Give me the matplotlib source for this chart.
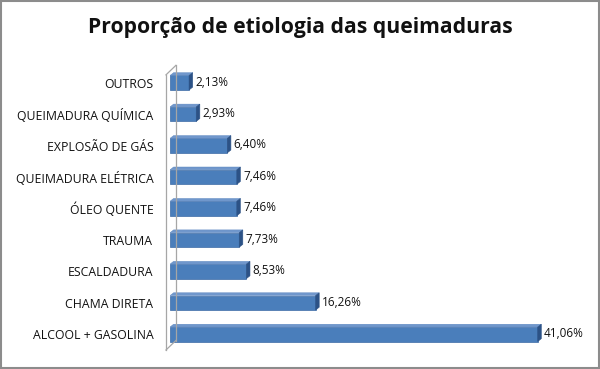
import numpy as np
import matplotlib.pyplot as plt
from matplotlib.patches import Polygon, Rectangle

# data (bottom to top)
categorias = ['ALCOOL + GASOLINA', 'CHAMA DIRETA', 'ESCALDADURA', 'TRAUMA',
              'ÓLEO QUENTE', 'QUEIMADURA ELÉTRICA', 'EXPLOSÃO DE GÁS',
              'QUEIMADURA QUÍMICA', 'OUTROS']
valores = [41.06, 16.26, 8.53, 7.73, 7.46, 7.46, 6.40, 2.93, 2.13]
rotulos = ['41,06%', '16,26%', '8,53%', '7,73%', '7,46%', '7,46%',
           '6,40%', '2,93%', '2,13%']

W, H = 600, 369
fig = plt.figure(figsize=(6, 3.69), dpi=100)
fig.patches.append(Rectangle((0.002, 0.003), 0.996, 0.994, transform=fig.transFigure,
                             fill=False, edgecolor='#8c8c8c', linewidth=1.5))

x0, x1 = 170, 573
y_top, y_bot = 67, 350
ax = fig.add_axes([x0 / W, (H - y_bot) / H, (x1 - x0) / W, (y_bot - y_top) / H])
ax.set_xlim(0, 45)
ax.set_ylim(-0.5, len(categorias) - 0.5)
for s in ax.spines.values():
    s.set_visible(False)
ax.set_xticks([])

fig.text(0.5, 0.925, 'Proporção de etiologia das queimaduras', ha='center', va='center',
         fontsize=15.2, fontweight='bold', family='Open Sans', color='#111111')

# depth of the fake 3D effect
dx = 0.4
dy = 0.09
h = 0.46

# wall
wall = '#a6a6a6'
ax.plot([-0.45, -0.45], [-0.5, 8.25], color=wall, lw=0.9, clip_on=False)
ax.plot([0.65, 0.65], [-0.2, 8.55], color=wall, lw=0.9, clip_on=False)
ax.plot([-0.45, 0.65], [8.25, 8.55], color=wall, lw=0.9, clip_on=False)
ax.plot([-0.45, 0.65], [-0.5, -0.2], color=wall, lw=0.9, clip_on=False)

for i, (v, lab) in enumerate(zip(valores, rotulos)):
    yb, yt = i - h / 2, i + h / 2
    ax.add_patch(Rectangle((0, yb), v, h, facecolor='#4a7ebb', edgecolor='#3d6ba6', lw=0.5))
    ax.add_patch(Polygon([(0, yt), (v, yt), (v + dx, yt + dy), (dx, yt + dy)],
                         closed=True, facecolor='#7097cc', edgecolor='#5a86bf', lw=0.3))
    ax.add_patch(Polygon([(v, yb), (v + dx, yb + dy), (v + dx, yt + dy), (v, yt)],
                         closed=True, facecolor='#2c5286', edgecolor='#2c5286', lw=0.4))
    ax.text(v + dx + 0.3, i + 0.02, lab, ha='left', va='center', fontsize=8.5,
            family='Open Sans', color='#111111')

ax.set_yticks(range(len(categorias)))
ax.set_yticklabels(categorias, fontsize=8.8, family='Open Sans', color='#111111')
ax.tick_params(axis='y', length=0, pad=12)

fig.savefig('out.png', dpi=100)
